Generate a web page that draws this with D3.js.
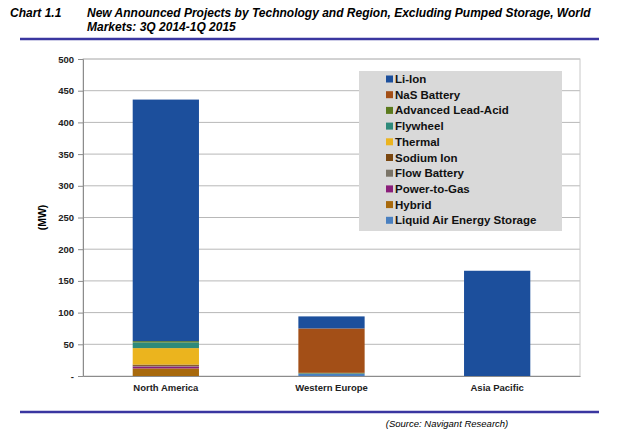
<!DOCTYPE html>
<html>
<head>
<meta charset="utf-8">
<script src="https://cdn.jsdelivr.net/npm/d3@7"></script>
<style>
  body { margin: 0; background: #fff; }
  text { font-family: "Liberation Sans", Arial, sans-serif; }
</style>
</head>
<body>
<script>
// Chart values (MW)
var regions = ["North America", "Western Europe", "Asia Pacific"];
var technologies = ["Li-Ion", "NaS Battery", "Advanced Lead-Acid", "Flywheel", "Thermal",
                    "Sodium Ion", "Flow Battery", "Power-to-Gas", "Hybrid", "Liquid Air Energy Storage"];
var techColors = ["#1c4f9c", "#a34f17", "#5b7a1d", "#2e8a7a", "#ebb41e",
                  "#7a4710", "#7a7468", "#8a1e7a", "#a8690c", "#4a80c0"];
// one array per technology, values per region
var liIon      = [381, 19, 166];
var nasBattery = [0, 70, 0];
var leadAcid   = [2, 1, 0];
var flywheel   = [9, 0, 0];
var thermal    = [26, 0, 0];
var sodiumIon  = [2, 0, 0];
var flowBatt   = [1, 0, 0];
var powerToGas = [3, 0, 0];
var hybrid     = [12, 0, 0];
var liquidAir  = [0, 4, 0];
var yTicks = [0, 50, 100, 150, 200, 250, 300, 350, 400, 450, 500];

var seriesValues = [liIon, nasBattery, leadAcid, flywheel, thermal,
                    sodiumIon, flowBatt, powerToGas, hybrid, liquidAir];

var width = 620, height = 443;
var svg = d3.select("body").append("svg")
	.attr("width", width)
	.attr("height", height);

// header
svg.append("text").attr("x", 10).attr("y", 17)
	.style("font-size", "12px").style("font-weight", "bold").style("font-style", "italic")
	.text("Chart 1.1");
svg.append("text").attr("x", 87).attr("y", 17)
	.style("font-size", "12px").style("font-weight", "bold").style("font-style", "italic")
	.text("New Announced Projects by Technology and Region, Excluding Pumped Storage, World");
svg.append("text").attr("x", 87).attr("y", 31)
	.style("font-size", "12px").style("font-weight", "bold").style("font-style", "italic")
	.text("Markets: 3Q 2014-1Q 2015");
svg.append("line").attr("x1", 20).attr("x2", 599).attr("y1", 39).attr("y2", 39)
	.style("stroke", "#3a36a0").style("stroke-width", 2.5);

// plot area ("top" is taken by window.top, so use other names)
var plotLeft = 83, plotRight = 580, plotTop = 59, plotBottom = 376;

var x = d3.scaleBand()
	.domain(regions)
	.range([plotLeft, plotRight])
	.paddingInner(0.6)
	.paddingOuter(0.3);

var y = d3.scaleLinear()
	.domain([0, 500])
	.range([plotBottom, plotTop]);

// rows for the stack: the last series sits at the bottom of each bar
var rows = regions.map(function(r, i) {
	var row = { region: r };
	technologies.forEach(function(t, j) { row[t] = seriesValues[j][i]; });
	return row;
});
var stack = d3.stack().keys(technologies.slice().reverse());
var stacked = stack(rows);

// grid lines
svg.append("g").selectAll("line")
	.data(yTicks.slice(1))
	.enter().append("line")
		.attr("x1", plotLeft).attr("x2", plotRight)
		.attr("y1", function(d) { return y(d); })
		.attr("y2", function(d) { return y(d); })
		.style("stroke", "#b8b8b8").style("stroke-width", 1);
svg.append("rect")
	.attr("x", plotLeft).attr("y", plotTop)
	.attr("width", plotRight - plotLeft).attr("height", plotBottom - plotTop)
	.style("fill", "none").style("stroke", "#c8c8c8");

// bars
var colorOf = d3.scaleOrdinal().domain(technologies).range(techColors);
svg.append("g").selectAll("g")
	.data(stacked)
	.enter().append("g")
		.style("fill", function(d) { return colorOf(d.key); })
	.selectAll("rect")
	.data(function(d) { return d; })
	.enter().append("rect")
		.attr("x", function(d) { return x(d.data.region); })
		.attr("width", x.bandwidth())
		.attr("y", function(d) { return y(d[1]); })
		.attr("height", function(d) { return y(d[0]) - y(d[1]); });

// y axis
var yAxis = d3.axisLeft(y)
	.tickValues(yTicks)
	.tickSize(5)
	.tickFormat(function(d) { return d === 0 ? "-" : d; });
var ya = svg.append("g").attr("transform", "translate(" + plotLeft + ",0)").call(yAxis);
ya.select(".domain").style("stroke", "#8c8c8c");
ya.selectAll(".tick line").style("stroke", "#8c8c8c");
ya.selectAll("text")
	.attr("x", -9)
	.style("font-size", "9.5px").style("font-weight", "bold")
	.style("font-family", "'Liberation Sans', Arial, sans-serif").style("fill", "#222");

// x axis
var xAxis = d3.axisBottom(x).tickSize(0);
var xa = svg.append("g").attr("transform", "translate(0," + plotBottom + ")").call(xAxis);
xa.select(".domain").style("stroke", "#8c8c8c");
xa.selectAll("text")
	.attr("dy", "1.3em")
	.style("font-size", "9.5px").style("font-weight", "bold")
	.style("font-family", "'Liberation Sans', Arial, sans-serif").style("fill", "#222");

svg.append("text")
	.attr("transform", "translate(46," + ((plotTop + plotBottom) / 2) + ") rotate(-90)")
	.attr("text-anchor", "middle")
	.style("font-size", "10.5px").style("font-weight", "bold")
	.text("(MW)");

// legend
var legend = svg.append("g").attr("transform", "translate(359,71)");
legend.append("rect")
	.attr("width", 203).attr("height", 160)
	.style("fill", "#d9d9d9");
var item = legend.selectAll("g.item")
	.data(technologies)
	.enter().append("g")
		.attr("class", "item")
		.attr("transform", function(d, i) { return "translate(27," + (8 + i * 15.7) + ")"; });
item.append("rect")
	.attr("x", 0).attr("y", -3.5)
	.attr("width", 7).attr("height", 7)
	.style("fill", function(d) { return colorOf(d); });
item.append("text")
	.attr("x", 9).attr("y", 4)
	.style("font-size", "11.5px").style("font-weight", "bold").style("fill", "#111")
	.text(function(d) { return d; });

// footer
svg.append("line").attr("x1", 20).attr("x2", 599).attr("y1", 412).attr("y2", 412)
	.style("stroke", "#3a36a0").style("stroke-width", 2.5);
svg.append("text").attr("x", 447).attr("y", 427)
	.attr("text-anchor", "middle")
	.style("font-size", "9.5px").style("font-style", "italic")
	.text("(Source: Navigant Research)");
</script>
</body>
</html>
